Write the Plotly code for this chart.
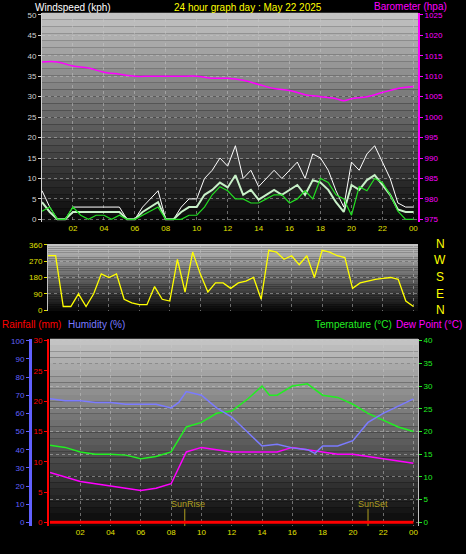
import plotly.graph_objects as go

W, H = 466, 554
# ---- data ----
wind_t = [i * 0.5 for i in range(49)]
gust = [7,3,0,0,3,3,3,3,3,3,3,0,0,3,5,7,0,0,3,5,5,10,12,15,13,18,10,12,8,10,12,10,12,14,10,16,15,12,7,3,14,12,16,18,14,10,4,3,3]
avg = [2,3,0,0,3,1,0,1,1,0,1,0,0,1,2,3,0,0,0,1,1,3,6,8,7,5,5,4,4,5,6,6,4,5,7,5,10,9,6,5,1,8,7,10,9,6,2,0,0]
baro_t = [0,1,2,3,4,5,6,7,8,9,10,11,12,13,14,15,16,17,18,19,19.5,20,21,22,23,24]
baro = [1013.5,1013.5,1012.5,1012,1011,1010.5,1010,1010,1010,1010,1010,1009.5,1009.5,1009,1008,1007,1006.5,1005.5,1005,1004.5,1004,1004.5,1005,1006,1007,1007.5]
dir_t = [i * 0.5 for i in range(49)]
wdir = [300,300,20,20,90,20,90,200,180,200,60,40,30,30,130,60,50,280,100,320,200,100,150,150,120,150,160,180,60,330,320,280,300,250,300,180,330,320,300,290,120,150,160,170,175,180,170,50,20]
hum_t = [0,1,2,3,4,5,6,7,8,8.5,9,10,11,12,13,14,15,16,17,17.5,18,19,20,21,22,23,24]
hum = [68,67,67,66,66,65,65,65,63,66,72,70,63,58,50,42,43,41,40,38,42,42,45,55,60,64,68]
temp_t = [0,1,2,3,4,5,6,7,8,9,10,11,12,13,14,14.5,15,16,17,18,19,20,21,22,23,24]
temp = [17,16.5,15.5,15,15,14.8,14,14.5,15.5,21,22,24,24.5,27,30,28,28,30,30.5,28,27.5,26,24,22.5,21,20]
dew_t = [0,1,2,3,4,5,6,7,8,9,10,11,12,13,14,15,16,17,18,19,20,21,22,23,24]
dew = [11,10,9,8.5,8,7.5,7,7.5,8.5,15.5,16.5,16,15.5,15.5,15.5,15.5,16.5,16,15.5,15,15,14.5,14,13.5,13]
rain_t = [0, 24]
rain = [0, 0]
hour_ticks = [2,4,6,8,10,12,14,16,18,20,22,24]
hour_labels = ["02","04","06","08","10","12","14","16","18","20","22","00"]

def py(px):
    return 1 - px / H
def pxx(px):
    return px / W

fig = go.Figure()
fig.add_trace(go.Scatter(x=wind_t, y=gust, mode="lines", line=dict(color="white", width=1), xaxis="x", yaxis="y"))
fig.add_trace(go.Scatter(x=wind_t, y=[g * 0.6 for g in gust], mode="lines", line=dict(color="#c8f0c8", width=2), xaxis="x", yaxis="y"))
fig.add_trace(go.Scatter(x=wind_t, y=avg, mode="lines", line=dict(color="#22dd22", width=1.2), xaxis="x", yaxis="y"))
fig.add_trace(go.Scatter(x=baro_t, y=baro, mode="lines", line=dict(color="#ff00ff", width=1.5), line_shape="spline", xaxis="x", yaxis="y2"))
fig.add_trace(go.Scatter(x=dir_t, y=wdir, mode="lines", line=dict(color="#ffff00", width=1.3), xaxis="x2", yaxis="y3"))
fig.add_trace(go.Scatter(x=rain_t, y=rain, mode="lines", line=dict(color="#ff0000", width=3), xaxis="x3", yaxis="y6"))
fig.add_trace(go.Scatter(x=hum_t, y=hum, mode="lines", line=dict(color="#7b7bff", width=1.5), xaxis="x3", yaxis="y5"))
fig.add_trace(go.Scatter(x=temp_t, y=temp, mode="lines", line=dict(color="#22ee22", width=1.5), xaxis="x3", yaxis="y4"))
fig.add_trace(go.Scatter(x=dew_t, y=dew, mode="lines", line=dict(color="#ff00ff", width=1.5), xaxis="x3", yaxis="y4"))
fig.add_trace(go.Scatter(x=[8.9, 8.9], y=[-0.8, 3], mode="lines", line=dict(color="#b0a020", width=1), xaxis="x3", yaxis="y4"))
fig.add_trace(go.Scatter(x=[21, 21], y=[-0.8, 3], mode="lines", line=dict(color="#b0a020", width=1), xaxis="x3", yaxis="y4"))

shapes = []
def grad(x0, x1, y0, y1, n=30):
    for i in range(n):
        f = i / (n - 1)
        c = int(195 - f * 185)
        shapes.append(dict(type="rect", xref="paper", yref="paper", layer="below",
                           x0=pxx(x0), x1=pxx(x1), y0=py(y0 + (y1 - y0) * i / n), y1=py(y0 + (y1 - y0) * (i + 1) / n),
                           fillcolor=f"rgb({c},{c},{c})", line=dict(width=0)))
grad(42, 418, 10, 222)
grad(48, 418, 244, 312)
grad(50, 418, 340, 530)

tf = dict(family="Liberation Sans", size=8)
xcommon = dict(range=[0, 24.3], tickvals=hour_ticks, showgrid=True, gridcolor="rgba(200,200,200,0.5)", griddash="dot",
               zeroline=False, tickfont=dict(tf, color="#e0e000"), ticks="", showline=False)
ycommon = dict(showgrid=True, gridcolor="rgba(200,200,200,0.5)", griddash="dot", zeroline=False, ticks="outside",
               ticklen=3, showline=True, linewidth=1)

lay = dict(
    width=W, height=H, margin=dict(l=0, r=0, t=0, b=0), paper_bgcolor="black", plot_bgcolor="rgba(0,0,0,0)",
    showlegend=False, shapes=shapes,
    xaxis=dict(xcommon, domain=[pxx(42), pxx(418)], anchor="y", ticktext=hour_labels),
    xaxis2=dict(xcommon, domain=[pxx(48), pxx(418)], anchor="y3", showticklabels=False),
    xaxis3=dict(xcommon, domain=[pxx(50), pxx(418)], anchor="y4", ticktext=hour_labels),
    yaxis=dict(ycommon, domain=[py(222), py(10)], range=[-0.7, 50.5], tickvals=list(range(0, 51, 5)),
               tickfont=dict(tf, color="#d0d0d0"), linecolor="#d0d0d0", tickcolor="#d0d0d0", anchor="x"),
    yaxis2=dict(overlaying="y", side="right", range=[974.3, 1025.5], tickvals=list(range(975, 1026, 5)), showgrid=False,
                tickfont=dict(tf, color="#ff00ff"), linecolor="#ff00ff", showline=True, linewidth=2, ticks="outside",
                ticklen=3, tickcolor="#ff00ff", anchor="x", zeroline=False),
    yaxis3=dict(ycommon, domain=[py(312), py(244)], range=[-5, 365], tickvals=[0, 90, 180, 270, 360],
                tickfont=dict(tf, color="#e0e000"), linecolor="#c0c0c0", tickcolor="#e0e000", anchor="x2"),
    yaxis4=dict(ycommon, domain=[py(530), py(340)], range=[-0.87, 40.43], tickvals=list(range(0, 41, 5)), side="right",
                tickfont=dict(tf, color="#22ee22"), linecolor="#c0c0c0", tickcolor="#22ee22", anchor="x3"),
    yaxis5=dict(overlaying="y4", side="left", anchor="free", position=pxx(30), range=[-2.17, 101.1],
                tickvals=list(range(0, 101, 10)), showgrid=False, zeroline=False, showline=True, linewidth=3,
                linecolor="#6060ff", ticks="outside", ticklen=3, tickcolor="#6060ff", tickfont=dict(tf, color="#6060ff")),
    yaxis6=dict(overlaying="y4", side="left", anchor="free", position=pxx(48), range=[-0.65, 30.32],
                tickvals=list(range(0, 31, 5)), showgrid=False, zeroline=False, showline=True, linewidth=2,
                linecolor="#ff0000", ticks="outside", ticklen=3, tickcolor="#ff0000", tickfont=dict(tf, color="#ff0000")),
)
fig.update_layout(**lay)

def txt(x, y, s, color, size=10, anchor="left"):
    fig.add_annotation(xref="paper", yref="paper", x=pxx(x), y=py(y), text=s, showarrow=False, xanchor=anchor,
                       yanchor="middle", font=dict(family="Liberation Sans", size=size, color=color))
txt(33, 5, "Windspeed (kph)", "white")
txt(172, 5, "24 hour graph day : May 22 2025", "#ffff00")
txt(372, 4, "Barometer (hpa)", "#ff00ff")
txt(0, 326, "Rainfall (mm)", "#ff0000")
txt(66, 326, "Humidity (%)", "#7b7bff")
txt(313, 326, "Temperature (°C)", "#22ee22")
txt(464, 326, "Dew Point (°C)", "#ff00ff", anchor="right")
for lab, yy in zip(["N", "W", "S", "E", "N"], [244, 260, 278, 295, 311]):
    txt(440, yy, lab, "#ffff00", size=12, anchor="center")
txt(188, 507, "SunRise", "#b0a020", size=9, anchor="center")
txt(373, 507, "SunSet", "#b0a020", size=9, anchor="center")

fig.write_html("out.html", config={"displayModeBar": False},
               post_script="document.body.style.margin='0';document.body.style.overflow='hidden';document.documentElement.style.overflow='hidden';")
